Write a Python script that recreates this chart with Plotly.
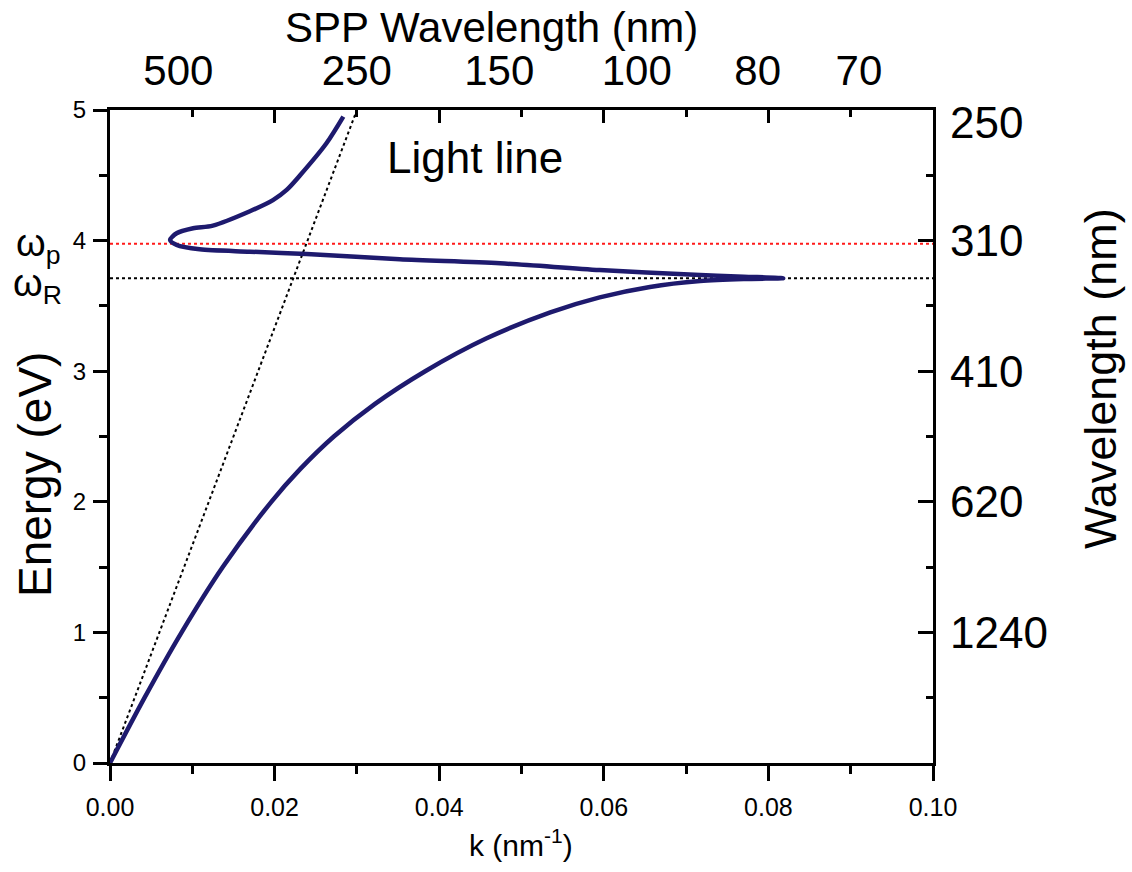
import plotly.graph_objects as go

# ---- data ----
k_spp = [0.0, 0.0042, 0.0087, 0.0137, 0.0196, 0.0231, 0.0272, 0.0322, 0.0383, 0.0457,
         0.0535, 0.0595, 0.0656, 0.0717, 0.0770, 0.0818,
         0.0770, 0.0717, 0.0595, 0.0474, 0.0352, 0.0239, 0.0170, 0.0109, 0.0081, 0.0073,
         0.0081, 0.0101, 0.0125, 0.0170, 0.0198, 0.0215, 0.0231, 0.0263, 0.02835]
E_spp = [0.0, 0.50, 1.00, 1.50, 2.00, 2.25, 2.50, 2.75, 3.00, 3.25,
         3.45, 3.565, 3.645, 3.69, 3.706, 3.712,
         3.724, 3.737, 3.775, 3.826, 3.857, 3.897, 3.915, 3.933, 3.966, 4.005,
         4.056, 4.094, 4.115, 4.225, 4.31, 4.39, 4.50, 4.745, 4.949]

k_light = [0.0, 0.030]
E_light = [0.0, 5.0]

E_p = 3.975
E_R = 3.712
k_span = [0.0, 0.10]

spp_wl_text = ["500", "250", "150", "100", "80", "70"]
spp_wl_k = [0.0083, 0.0300, 0.0473, 0.0640, 0.0787, 0.0910]

wl_text = ["250", "310", "410", "620", "1240"]
wl_E = [4.9, 4.0, 3.0, 2.0, 1.0]

FONT = "Liberation Sans, Arial, sans-serif"
NAVY = "#1e1a6e"

fig = go.Figure()
fig.add_trace(go.Scatter(x=k_span, y=[E_p, E_p], mode="lines",
                         line=dict(color="#ff1a1a", width=2, dash="dot"), showlegend=False))
fig.add_trace(go.Scatter(x=k_span, y=[E_R, E_R], mode="lines",
                         line=dict(color="black", width=2, dash="dot"), showlegend=False))
fig.add_trace(go.Scatter(x=k_light, y=E_light, mode="lines",
                         line=dict(color="black", width=2, dash="dot"), showlegend=False))
fig.add_trace(go.Scatter(x=k_spp, y=E_spp, mode="lines",
                         line=dict(color=NAVY, width=4.5, shape="spline", smoothing=0.8),
                         showlegend=False))
# helper traces so the overlay axes are drawn
fig.add_trace(go.Scatter(x=[None], y=[None], xaxis="x2", yaxis="y2", showlegend=False))
fig.add_trace(go.Scatter(x=[None], y=[None], xaxis="x3", yaxis="y3", showlegend=False))

axis_common = dict(showgrid=False, zeroline=False, showline=True, linecolor="black",
                   linewidth=3, tickcolor="black", tickwidth=2.5)

fig.update_layout(
    width=1132, height=872,
    margin=dict(l=110, r=199, t=110, b=109),
    paper_bgcolor="white", plot_bgcolor="white",
    font=dict(family=FONT, color="black"),
    xaxis=dict(range=[0, 0.1], tickmode="linear", tick0=0, dtick=0.02, tickformat=".2f",
               ticks="outside", ticklen=15,
               minor=dict(tickmode="linear", tick0=0, dtick=0.01, ticks="outside", ticklen=8,
                          tickwidth=2.5, tickcolor="black"),
               tickfont=dict(size=25, family=FONT), ticklabelstandoff=5,
               **axis_common),
    xaxis2=dict(range=[0, 0.1], overlaying="x", side="top", anchor="y2",
                tickmode="linear", tick0=0, dtick=0.02, ticks="inside", ticklen=13,
                minor=dict(tickmode="linear", tick0=0, dtick=0.01, ticks="inside", ticklen=7,
                           tickwidth=2.5, tickcolor="black"),
                showticklabels=False, **axis_common),
    xaxis3=dict(range=[0, 0.1], overlaying="x", side="top", anchor="y3",
                tickmode="array", tickvals=spp_wl_k, ticktext=spp_wl_text, ticks="",
                tickfont=dict(size=42, family=FONT), ticklabelstandoff=16,
                showgrid=False, zeroline=False, showline=False),
    yaxis=dict(range=[0, 5], tickmode="linear", tick0=0, dtick=1,
               ticks="outside", ticklen=14,
               minor=dict(tickmode="linear", tick0=0, dtick=0.5, ticks="outside", ticklen=8,
                          tickwidth=2.5, tickcolor="black"),
               tickfont=dict(size=24, family=FONT), ticklabelstandoff=2,
               **axis_common),
    yaxis2=dict(range=[0, 5], overlaying="y", side="right", anchor="x2",
                tickmode="linear", tick0=0, dtick=1, ticks="inside", ticklen=15,
                minor=dict(tickmode="linear", tick0=0, dtick=0.5, ticks="inside", ticklen=7,
                           tickwidth=2.5, tickcolor="black"),
                showticklabels=False, **axis_common),
    yaxis3=dict(range=[0, 5], overlaying="y", side="right", anchor="x3",
                tickmode="array", tickvals=wl_E, ticktext=wl_text, ticks="",
                tickfont=dict(size=44, family=FONT), ticklabelstandoff=16,
                showgrid=False, zeroline=False, showline=False),
)

C = dict(xanchor="center", yanchor="middle", showarrow=False)
ann = [
    dict(text="Energy (eV)", xref="paper", yref="paper", x=-0.0911, y=0.441,
         textangle=-90, font=dict(size=46), **C),
    dict(text="Wavelength (nm)", xref="paper", yref="paper", x=1.203, y=0.588,
         textangle=-90, font=dict(size=45), **C),
    dict(text="SPP Wavelength (nm)", xref="paper", yref="paper", x=0.464, y=1.126,
         font=dict(size=42), **C),
    dict(text="k (nm<sup>-1</sup>)", xref="paper", yref="paper", x=0.4994, y=-0.122,
         font=dict(size=30), **C),
    dict(text="Light line", xref="x", yref="y", x=0.0443, y=4.64,
         font=dict(size=44), **C),
    dict(text="ω<sub>p</sub>", xref="paper", yref="y", x=-0.0875, y=E_p, yshift=-2,
         font=dict(size=38), **C),
    dict(text="ω<sub>R</sub>", xref="paper", yref="y", x=-0.0875, y=E_R, yshift=-8,
         font=dict(size=38), **C),
]
fig.update_layout(annotations=ann)

fig.write_html("out.html")
